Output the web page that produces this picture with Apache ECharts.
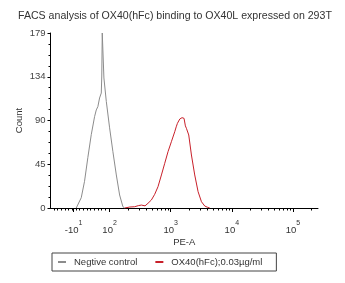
<!DOCTYPE html>
<html>
<head>
<meta charset="utf-8">
<script src="https://cdn.jsdelivr.net/npm/echarts@6/dist/echarts.min.js"></script>
<style>html,body{margin:0;padding:0;background:#fff}#c{width:345px;height:283px}</style>
</head>
<body>
<div id="c"></div>
<script>
// x values are in display "decade" units of the biexponential PE-A axis (2 = 10^2, 3 = 10^3 ...)
var titleText = 'FACS analysis of OX40(hFc) binding to OX40L expressed on 293T';
var seriesNames = ['Negtive control', 'OX40(hFc);0.03\u00b5g/ml'];
var negX = [1.454, 1.536, 1.590, 1.644, 1.700, 1.754, 1.782, 1.808, 1.836, 1.864, 1.872, 1.880, 1.902, 1.907, 1.946, 2.000, 2.054, 2.110, 2.164, 2.218, 2.246];
var negY = [0, 10.5, 27.3, 51.5, 75.0, 93.4, 100.3, 103.7, 112.5, 117.6, 135, 179, 179, 133, 109, 82, 57.6, 33.8, 13.3, 1.3, 0];
var posX = [2.246, 2.330, 2.410, 2.470, 2.520, 2.580, 2.628, 2.684, 2.738, 2.792, 2.848, 2.902, 2.956, 3.011, 3.066, 3.090, 3.110, 3.130, 3.148, 3.165, 3.185, 3.200, 3.218, 3.240, 3.257, 3.295, 3.339, 3.393, 3.448, 3.503, 3.557, 3.600, 3.639];
var posY = [0, 1.0, 1.3, 2.4, 3.0, 2.2, 4.8, 8.2, 14, 21.8, 33.8, 45.7, 57.6, 67.8, 78, 83, 86.6, 88.5, 91, 90, 92.4, 91, 91.7, 84, 81.5, 74.7, 54.2, 33.8, 16.7, 6.4, 2, 0.8, 0];
var yTicks = [0, 45, 90, 134, 179];
var xLabelPos = [1.41, 2, 3, 4, 5];
var xLabelBase = ['-10', '10', '10', '10', '10'];
var xLabelExp = ['1', '2', '3', '4', '5'];

function pairs(xs, ys) { return xs.map(function (x, i) { return [x, ys[i]]; }); }
var xMin = 1.033, xMax = 5.41;
var minorTicks = [];
for (var v = 1.09; v < 1.97; v += 0.06) minorTicks.push(+v.toFixed(3));
for (var d = 2; d <= 5; d++) {
  for (var k = 2; k <= 9; k++) {
    var t = d + Math.log10(k);
    if (t < xMax) minorTicks.push(t);
  }
}
var font = 'Liberation Sans, Arial, sans-serif';
var chart = echarts.init(document.getElementById('c'), null, { renderer: 'canvas' });
chart.setOption({
  animation: false,
  backgroundColor: '#fff',
  title: { text: titleText, left: 13, top: 6, textStyle: { fontSize: 10.6, fontWeight: 'normal', color: '#333', fontFamily: font } },
  grid: { left: 50.5, top: 33, right: 27, bottom: 75 },
  legend: {
    data: seriesNames, left: 52, top: 253, orient: 'horizontal',
    borderColor: '#444', borderWidth: 1, padding: [4, 14, 4, 6], itemGap: 18,
    icon: 'rect', itemWidth: 8, itemHeight: 2,
    textStyle: { fontSize: 9.5, color: '#333', fontFamily: font, padding: [0, 0, 0, 3] }
  },
  xAxis: [{
    type: 'value', min: xMin, max: xMax, position: 'bottom',
    name: 'PE-A', nameLocation: 'middle', nameGap: 29, nameMoveOverlap: false,
    nameTextStyle: { fontSize: 9.5, color: '#333', fontFamily: font },
    axisLine: { lineStyle: { color: '#000', width: 1 } },
    axisTick: { show: true, customValues: xLabelPos, length: 4, lineStyle: { color: '#000' } },
    splitLine: { show: false },
    axisLabel: {
      customValues: xLabelPos, margin: 12,
      formatter: function (val) {
        var i = xLabelPos.indexOf(val);
        if (i < 0) return '';
        return '{b|' + xLabelBase[i] + '}{s|' + xLabelExp[i] + '}';
      },
      rich: {
        b: { fontSize: 9.5, color: '#333', fontFamily: font, verticalAlign: 'bottom' },
        s: { fontSize: 7, color: '#333', fontFamily: font, verticalAlign: 'top', padding: [0, 0, 8, 0] }
      }
    }
  }, {
    type: 'value', min: xMin, max: xMax, position: 'bottom',
    axisLine: { show: false },
    axisTick: { show: true, customValues: minorTicks, length: 2.5, lineStyle: { color: '#000' } },
    axisLabel: { show: false },
    splitLine: { show: false }
  }],
  yAxis: {
    type: 'value', min: 0, max: 179, interval: 44.75,
    name: 'Count', nameLocation: 'middle', nameGap: 26, nameMoveOverlap: false,
    nameTextStyle: { fontSize: 9.5, color: '#333', fontFamily: font },
    axisLine: { show: true, lineStyle: { color: '#000', width: 1 } },
    axisTick: { show: true, length: 3, lineStyle: { color: '#000' } },
    minorTick: { show: true, splitNumber: 4, length: 2, lineStyle: { color: '#000' } },
    splitLine: { show: false },
    axisLabel: {
      fontSize: 9.5, color: '#444', fontFamily: font, margin: 5,
      formatter: function (v) { return String(Math.round(v)); }
    }
  },
  series: [{
    name: seriesNames[0], type: 'line', xAxisIndex: 0, data: pairs(negX, negY),
    showSymbol: false, symbol: 'none', lineStyle: { color: '#8c8c8c', width: 1 }, itemStyle: { color: '#8c8c8c' }, z: 3
  }, {
    name: seriesNames[1], type: 'line', xAxisIndex: 0, data: pairs(posX, posY),
    showSymbol: false, symbol: 'none', lineStyle: { color: '#c8202a', width: 1 }, itemStyle: { color: '#c8202a' }, z: 4
  }]
});
</script>
</body>
</html>
